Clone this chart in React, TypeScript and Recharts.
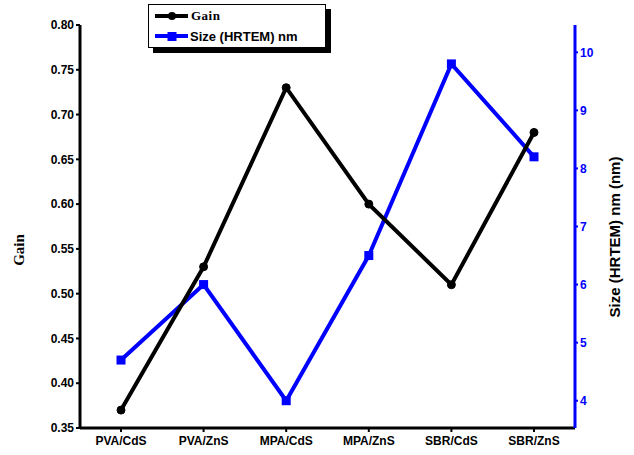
import { LineChart, Line, XAxis, YAxis, Label } from "recharts";

const samples = ["PVA/CdS", "PVA/ZnS", "MPA/CdS", "MPA/ZnS", "SBR/CdS", "SBR/ZnS"];
const gain = [0.37, 0.53, 0.73, 0.6, 0.51, 0.68];
const sizeNm = [4.7, 6.0, 4.0, 6.5, 9.8, 8.2];
const gainTicks = [0.35, 0.4, 0.45, 0.5, 0.55, 0.6, 0.65, 0.7, 0.75, 0.8];
const sizeTicks = [4, 5, 6, 7, 8, 9, 10];

const BLUE = "#0000ff";
const SANS = "'Liberation Sans', Arial, sans-serif";
const SERIF = "'Liberation Serif', 'Times New Roman', serif";

const chartData = samples.map((name, i) => ({
  name,
  gain: gain[i],
  size: sizeNm[i],
}));

const SquareDot = (props: any) => {
  const { cx, cy, index } = props;
  if (cx == null || cy == null) return <g key={index} />;
  return <rect key={index} x={cx - 4.5} y={cy - 4.5} width={9} height={9} fill={BLUE} />;
};

const App = () => {
  return (
    <div style={{ position: "absolute", left: 0, top: 0, width: 634, height: 455, background: "#fff" }}>
      <LineChart
        width={634}
        height={455}
        data={chartData}
        margin={{ top: 25, right: 0, left: 0, bottom: 0 }}
      >
        <XAxis
          dataKey="name"
          height={27}
          padding={{ left: 41, right: 41 }}
          stroke="#000"
          strokeWidth={3}
          tickSize={4}
          tickLine={{ stroke: "#000", strokeWidth: 2 }}
          tick={{ fill: "#000", fontSize: 12, fontWeight: 700, fontFamily: SANS, dy: 2 }}
          interval={0}
        />
        <YAxis
          yAxisId="left"
          orientation="left"
          width={80}
          domain={[0.35, 0.8]}
          ticks={gainTicks}
          tickFormatter={(v: number) => v.toFixed(2)}
          stroke="#000"
          strokeWidth={3}
          tickSize={4}
          tickLine={{ stroke: "#000", strokeWidth: 2 }}
          tick={{ fill: "#000", fontSize: 12, fontWeight: 700, fontFamily: SANS }}
          allowDataOverflow
        >
          <Label
            content={() => (
              <text
                x={24}
                y={250}
                transform="rotate(-90, 24, 250)"
                textAnchor="middle"
                fontFamily={SERIF}
                fontWeight={700}
                fontSize={15}
                fill="#000"
              >
                Gain
              </text>
            )}
          />
        </YAxis>
        <YAxis
          yAxisId="right"
          orientation="right"
          width={59}
          domain={[3.53, 10.47]}
          ticks={sizeTicks}
          stroke={BLUE}
          strokeWidth={3}
          tickSize={3}
          tickLine={{ stroke: BLUE, strokeWidth: 2 }}
          tick={{ fill: BLUE, fontSize: 12, fontWeight: 700, fontFamily: SANS }}
          allowDataOverflow
        >
          <Label
            content={() => (
              <text
                x={620}
                y={237}
                transform="rotate(-90, 620, 237)"
                textAnchor="middle"
                fontFamily={SANS}
                fontWeight={700}
                fontSize={15}
                fill="#000"
              >
                Size (HRTEM) nm (nm)
              </text>
            )}
          />
        </YAxis>
        <Line
          yAxisId="right"
          dataKey="size"
          stroke={BLUE}
          strokeWidth={4}
          dot={SquareDot}
          activeDot={false}
          isAnimationActive={false}
        />
        <Line
          yAxisId="left"
          dataKey="gain"
          stroke="#000"
          strokeWidth={4}
          dot={{ r: 4, fill: "#000", stroke: "#000", strokeWidth: 1 }}
          activeDot={false}
          isAnimationActive={false}
        />
      </LineChart>

      {/* legend box with drop shadow */}
      <div
        style={{
          position: "absolute",
          left: 148,
          top: 4,
          width: 176,
          height: 42,
          border: "1px solid #000",
          background: "#fff",
          boxShadow: "5px 5px 0 #000",
          fontWeight: 700,
          fontSize: 13,
          color: "#000",
        }}
      >
        <div style={{ display: "flex", alignItems: "center", height: 20, marginTop: 1 }}>
          <svg width={34} height={12} style={{ marginLeft: 6 }}>
            <line x1={0} y1={6} x2={33} y2={6} stroke="#000" strokeWidth={4} />
            <circle cx={17} cy={6} r={4} fill="#000" />
          </svg>
          <span style={{ fontFamily: SERIF, marginLeft: 2, letterSpacing: 0.5 }}>Gain</span>
        </div>
        <div style={{ display: "flex", alignItems: "center", height: 20 }}>
          <svg width={34} height={12} style={{ marginLeft: 6 }}>
            <line x1={0} y1={6} x2={33} y2={6} stroke={BLUE} strokeWidth={4} />
            <rect x={12.5} y={2} width={9} height={9} fill={BLUE} />
          </svg>
          <span style={{ fontFamily: SANS, marginLeft: 1 }}>Size (HRTEM) nm</span>
        </div>
      </div>
    </div>
  );
};

export default App;
